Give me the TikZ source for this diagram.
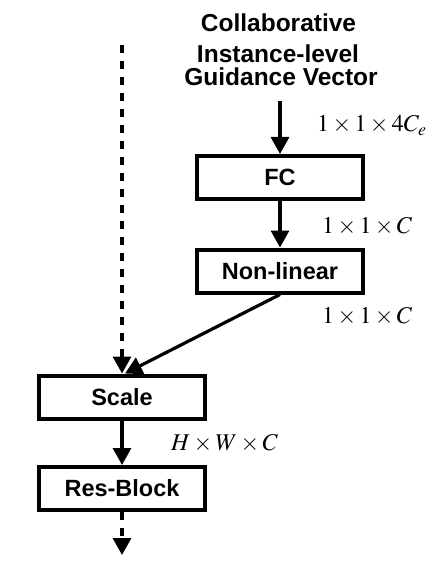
\documentclass[tikz,border=0pt]{standalone}
\usepackage{mathptmx}
\usepackage{fontspec}
\setmainfont{Liberation Sans}
\usetikzlibrary{arrows.meta}
\tikzset{
  box/.style={draw, line width=4pt, minimum width=166pt, minimum height=43pt, inner sep=0pt,
    font=\fontsize{23.5}{28}\selectfont\bfseries},
  ttl/.style={font=\fontsize{24.5}{29}\selectfont\bfseries, inner sep=0pt, anchor=base},
  dim/.style={font=\fontsize{24}{28}\selectfont, inner sep=0pt, anchor=base west},
  arr/.style={line width=3.2pt, -{Triangle[length=17pt,width=18pt]}},
  darr/.style={arr, dash pattern=on 8pt off 8pt}
}
\begin{document}
\begin{tikzpicture}[x=1pt,y=-1pt]
\useasboundingbox (0,0) rectangle (445,572);
\node[ttl] (t1) at (278.5,32) {Collaborative};
\node[ttl] (t2) at (278,63) {Instance-level};
\node[ttl] (t3) at (281,86) {Guidance Vector};
\node[box] (fc) at (280,177.5) {FC};
\node[box] (nl) at (280,271) {Non-linear};
\node[box] (sc) at (122,397) {Scale};
\node[box] (rb) at (122,488.5) {Res-Block};
\coordinate (gv) at (280,101);
\coordinate (in) at (122,45);
\coordinate (out) at (122,555);
\draw[arr] (gv) -- (fc.north);
\draw[arr] (fc) -- (nl);
\draw[arr] (nl.south) -- ([xshift=3pt]sc.north);
\draw[darr] (in) -- (sc.north);
\draw[arr] (sc) -- (rb);
\draw[darr] (rb.south) -- (out);
\node[dim] (l1) at (317,132) {$1\times1\times4C_e$};
\node[dim] (l2) at (322,233) {$1\times1\times C$};
\node[dim] (l3) at (322,323) {$1\times1\times C$};
\node[dim] (l4) at (171,450) {$H\times W\times C$};
\end{tikzpicture}
\end{document}
